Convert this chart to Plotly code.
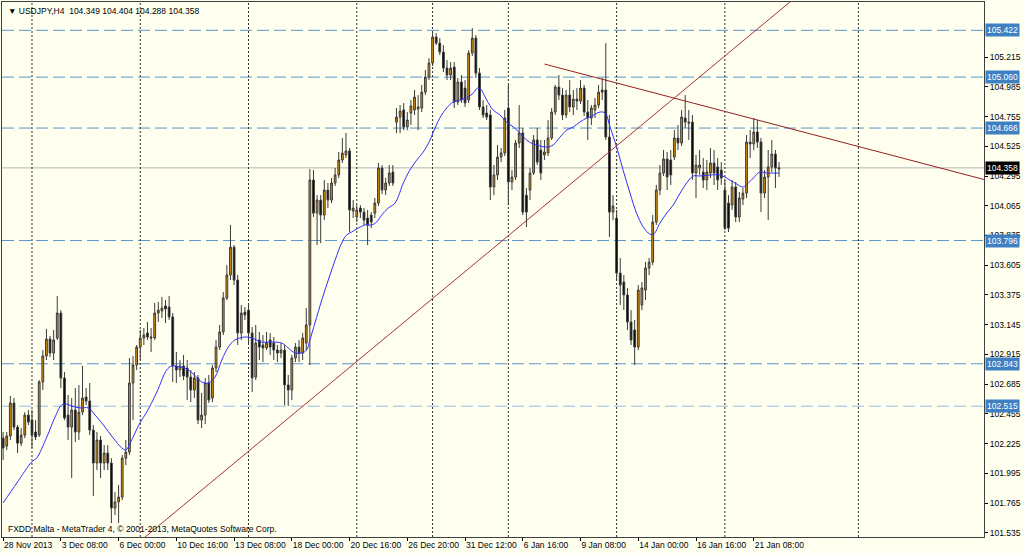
import plotly.graph_objects as go

# ---------------- data (USDJPY, H4) ----------------
opens = [102.268,102.206,102.284,102.539,102.353,102.229,102.291,102.446,102.407,102.315,
102.291,102.702,102.903,103.034,102.926,103.042,103.235,102.733,102.446,102.353,
102.485,102.315,102.469,102.586,102.554,102.330,102.075,102.253,102.075,102.152,
102.075,101.727,101.774,101.812,102.113,102.160,102.694,102.833,102.972,103.042,
103.081,103.050,103.042,103.235,103.251,103.290,103.282,103.205,102.826,102.795,
102.826,102.810,102.740,102.640,102.733,102.407,102.446,102.694,102.578,102.810,
102.972,103.089,103.351,103.529,103.745,103.490,103.081,103.243,103.258,103.081,
102.740,103.027,102.988,102.965,103.027,103.003,102.949,102.926,102.949,102.679,
102.640,102.887,102.972,102.926,103.003,103.143,104.264,104.008,104.109,103.993,
104.187,104.109,104.241,104.303,104.419,104.458,104.489,104.024,103.978,104.047,
104.016,103.970,103.993,104.008,104.086,104.357,104.187,104.241,104.326,104.712,
104.751,104.806,104.674,104.782,104.806,104.813,104.821,104.944,105.060,105.169,
105.370,105.323,105.254,105.130,105.076,105.138,104.867,105.022,104.975,104.883,
105.246,105.362,105.091,104.829,104.782,104.767,104.210,104.303,104.442,104.473,
104.821,104.249,104.287,104.550,104.628,104.147,104.187,104.318,104.574,104.496,
104.458,104.473,104.589,104.790,104.983,104.921,104.767,104.921,104.829,104.890,
104.875,104.975,104.790,104.744,104.806,104.844,104.960,104.960,104.597,104.016,
103.970,103.544,103.475,103.375,103.166,103.104,102.972,103.297,103.413,103.583,
103.629,103.939,104.187,104.318,104.427,104.419,104.442,104.589,104.550,104.744,
104.712,104.712,104.318,104.357,104.326,104.264,104.318,104.396,104.365,104.341,
104.187,104.086,104.070,104.210,103.978,104.117,104.163,104.558,104.543,104.635,
104.558,104.163,104.287,104.365,104.465,104.349]

highs = [102.315,102.315,102.594,102.578,102.369,102.345,102.469,102.485,102.485,102.407,
102.717,102.949,103.112,103.058,103.104,103.367,103.258,102.779,102.601,102.578,
102.655,102.679,102.826,102.655,102.694,102.369,102.315,102.284,102.214,102.214,
102.113,101.850,101.905,102.137,102.253,102.887,102.903,102.988,103.104,103.119,
103.166,103.119,103.313,103.321,103.360,103.336,103.367,103.235,102.934,102.872,
102.911,102.872,102.795,102.779,102.756,102.617,102.733,102.756,102.833,103.027,
103.143,103.397,103.606,103.916,103.761,103.529,103.297,103.282,103.297,103.127,
103.143,103.089,103.065,103.089,103.081,103.050,102.988,103.003,102.988,102.756,
102.911,103.003,103.027,103.081,103.274,104.349,104.341,104.147,104.147,104.264,
104.241,104.280,104.357,104.481,104.589,104.628,104.512,104.109,104.070,104.070,
104.047,104.032,104.016,104.125,104.396,104.379,104.280,104.379,104.379,104.821,
104.844,104.860,104.790,104.883,104.960,104.921,104.999,105.115,105.207,105.401,
105.401,105.362,105.308,105.192,105.176,105.176,105.053,105.076,105.037,105.269,
105.439,105.385,105.130,104.883,104.844,104.806,104.380,104.535,104.512,104.806,
104.999,104.341,104.574,104.844,104.666,104.202,104.357,104.612,104.666,104.574,
104.574,104.728,104.821,104.999,105.076,104.975,104.960,105.037,104.960,104.975,
105.037,104.999,104.883,104.844,104.898,104.999,105.053,105.323,104.767,104.147,
104.032,103.661,103.529,103.428,103.258,103.181,103.452,103.475,103.630,103.661,
103.993,104.226,104.380,104.496,104.481,104.496,104.651,104.689,104.806,104.921,
104.806,104.767,104.458,104.496,104.434,104.419,104.512,104.496,104.434,104.403,
104.264,104.147,104.264,104.249,104.171,104.202,104.612,104.651,104.744,104.728,
104.589,104.341,104.496,104.574,104.496,104.404]

lows = [102.098,102.175,102.253,102.330,102.152,102.206,102.268,102.369,102.191,102.253,
102.276,102.640,102.872,102.895,102.872,103.027,102.655,102.407,102.253,101.959,
102.237,102.253,102.446,102.523,102.291,101.820,102.021,101.959,102.021,102.021,
101.611,101.673,101.611,101.789,102.059,102.137,102.407,102.795,102.872,102.988,
103.027,102.934,103.027,103.166,103.197,103.158,103.181,102.702,102.694,102.740,
102.717,102.562,102.547,102.578,102.376,102.345,102.376,102.539,102.547,102.779,
102.949,103.065,103.336,103.490,103.452,102.988,103.027,103.181,102.988,102.624,
102.717,102.872,102.856,102.949,102.911,102.872,102.856,102.887,102.523,102.516,
102.562,102.856,102.856,102.872,102.949,102.833,103.978,103.761,103.776,103.954,
104.047,104.086,104.218,104.280,104.396,104.434,103.862,103.970,103.939,103.970,
103.916,103.761,103.892,103.970,104.063,104.155,104.147,104.218,104.218,104.627,
104.627,104.650,104.650,104.690,104.767,104.650,104.790,104.921,105.037,105.146,
105.308,105.231,105.099,105.037,105.037,104.821,104.844,104.860,104.829,104.860,
105.223,105.053,104.806,104.744,104.728,104.109,104.147,104.264,104.403,104.450,
104.070,104.187,104.264,104.512,103.993,103.900,104.109,104.303,104.380,104.264,
104.419,104.450,104.574,104.767,104.883,104.728,104.744,104.790,104.767,104.806,
104.852,104.759,104.574,104.689,104.744,104.821,104.883,104.574,103.823,103.954,
103.490,103.297,103.258,103.104,102.988,102.833,102.949,103.258,103.336,103.529,
103.606,103.916,104.147,104.295,104.187,104.226,104.419,104.496,104.527,104.666,
104.574,104.264,104.125,104.303,104.202,104.187,104.280,104.226,104.187,104.226,
103.877,103.862,104.032,103.939,103.939,104.070,104.125,104.434,104.496,104.512,
104.016,104.125,103.954,104.326,104.202,104.288]

closes = [102.191,102.284,102.539,102.353,102.229,102.291,102.446,102.392,102.291,102.276,
102.702,102.903,103.034,102.926,103.027,103.235,102.733,102.423,102.353,102.485,
102.315,102.469,102.578,102.554,102.330,102.075,102.253,102.075,102.152,102.075,
101.727,101.774,101.812,102.113,102.160,102.694,102.833,102.972,103.042,103.065,
103.050,103.042,103.235,103.258,103.274,103.266,103.205,102.826,102.795,102.826,
102.748,102.740,102.640,102.733,102.407,102.446,102.694,102.562,102.810,102.972,
103.089,103.351,103.529,103.745,103.490,103.081,103.235,103.220,103.081,102.733,
103.003,102.972,102.965,103.003,102.972,102.949,102.926,102.949,102.679,102.640,
102.887,102.972,102.926,103.042,103.143,104.264,104.008,104.109,103.993,104.187,
104.109,104.241,104.303,104.419,104.473,104.489,104.032,104.047,104.032,104.016,
103.954,103.916,103.939,104.086,104.357,104.187,104.241,104.318,104.241,104.751,
104.798,104.674,104.728,104.837,104.906,104.829,104.944,105.060,105.169,105.370,
105.323,105.254,105.130,105.076,105.130,104.867,105.022,104.883,104.860,105.246,
105.362,105.091,104.829,104.767,104.751,104.210,104.303,104.442,104.473,104.744,
104.249,104.287,104.550,104.628,104.016,104.016,104.318,104.574,104.403,104.318,
104.481,104.589,104.790,104.983,104.921,104.767,104.921,104.829,104.890,104.875,
104.975,104.790,104.744,104.821,104.844,104.944,104.944,104.597,104.016,104.063,
103.544,103.452,103.375,103.166,103.027,102.972,103.413,103.429,103.583,103.629,
103.939,104.187,104.318,104.427,104.287,104.303,104.589,104.550,104.751,104.712,
104.705,104.318,104.380,104.380,104.264,104.326,104.396,104.318,104.264,104.280,
103.892,103.892,104.210,103.978,104.125,104.163,104.558,104.543,104.635,104.558,
104.163,104.287,104.365,104.465,104.357,104.358]

bar_idx = list(range(len(closes)))

# moving average (bar index, price)
ma_x = [0,3.8,7.9,9.3,12.1,14.4,16.2,17.6,19.0,21.3,23.6,25.5,27.8,30.5,32.9,34.0,35.2,37.9,39.8,42.6,
45.3,46.7,49.0,50.9,53.6,55.0,56.8,58.7,60.6,62.4,64.2,67.0,68.9,71.6,74.4,77.2,79.0,80.9,82.7,84.1,
85.0,86.4,88.3,90.1,92.0,93.8,95.2,96.6,98.4,100.3,102.1,103.5,104.9,106.7,108.6,110.9,112.7,114.6,116.4,118.3,
119.2,121.0,122.9,124.7,126.6,128.4,130.3,131.4,132.3,134.0,135.8,137.7,139.5,141.4,143.2,145.1,146.9,148.8,150.6,152.4,
154.3,156.2,158.0,159.8,161.7,162.6,165.4,166.8,168.2,170.0,171.8,173.7,175.5,177.4,179.2,180.3,182.0,183.9,185.7,187.6,
189.4,191.2,193.1,195.9,198.6,200.0,201.4,203.3,205.1,206.5,207.9,209.7,211.6,213.5,215.0]
ma_y = [101.766,101.921,102.083,102.114,102.276,102.431,102.524,102.531,102.516,102.501,102.501,102.446,102.369,102.269,102.191,102.176,102.230,102.385,102.470,102.624,
102.794,102.825,102.818,102.802,102.740,102.702,102.694,102.740,102.872,102.972,103.026,103.050,103.042,103.011,103.011,103.003,102.965,102.926,102.926,102.949,
103.026,103.158,103.336,103.490,103.645,103.777,103.839,103.862,103.893,103.916,103.916,103.939,103.993,104.047,104.086,104.241,104.341,104.418,104.480,104.573,
104.635,104.743,104.821,104.867,104.883,104.898,104.937,104.975,104.968,104.883,104.805,104.767,104.712,104.674,104.627,104.573,104.542,104.527,104.519,104.535,
104.596,104.651,104.674,104.712,104.743,104.751,104.790,104.782,104.674,104.519,104.341,104.163,104.009,103.900,103.846,103.846,103.931,104.009,104.071,104.163,
104.241,104.295,104.295,104.303,104.303,104.287,104.264,104.233,104.210,104.241,104.280,104.326,104.318,104.318,104.318]

# time-axis labels
label_idx = [0,16,32,48,64,80,96,112,128,144,160,176,192,208]
label_text = ["28 Nov 2013","3 Dec 08:00","6 Dec 00:00","10 Dec 16:00","13 Dec 08:00",
              "18 Dec 00:00","20 Dec 16:00","26 Dec 20:00","31 Dec 12:00","6 Jan 16:00",
              "9 Jan 08:00","14 Jan 00:00","16 Jan 16:00","21 Jan 08:00"]
week_separators = [8,38,68,98,119,140,170,200,237]

price_ticks = [101.535,101.765,101.995,102.225,102.455,102.685,102.915,103.145,103.375,
               103.605,103.835,104.065,104.295,104.525,104.755,104.985,105.215]

levels = [105.422,105.060,104.666,103.796,102.843,102.515]
level_colors = ["#5b93c9","#5b93c9","#5b93c9","#5b93c9","#5b93c9","#93bbe0"]

trend_up = [(35,101.402),(222,105.733)]
trend_down = [(150,105.161),(280,104.208)]

symbol = "USDJPY,H4"
footer = "FXDD Malta - MetaTrader 4, \u00a9 2001-2013, MetaQuotes Software Corp."

# ---------------- styling ----------------
BG = "#fffff0"
FONT = "Liberation Sans"
FS = 8.5
X_RANGE = [-0.31, 271.8]
Y_RANGE = [101.503, 105.641]

fig = go.Figure()

fig.add_trace(go.Candlestick(
    x=bar_idx, open=opens, high=highs, low=lows, close=closes,
    increasing=dict(fillcolor="#e39400", line=dict(color="#3a3a3a", width=1)),
    decreasing=dict(fillcolor="#000000", line=dict(color="#3a3a3a", width=1)),
    whiskerwidth=0, hoverinfo="skip", showlegend=False))

fig.add_trace(go.Scatter(x=ma_x, y=ma_y, mode="lines",
                         line=dict(color="#2f2fff", width=1, shape="spline"),
                         hoverinfo="skip", showlegend=False))

for pts, col in ((trend_up, "#a83232"), (trend_down, "#962020")):
    fig.add_trace(go.Scatter(x=[p[0] for p in pts], y=[p[1] for p in pts], mode="lines",
                             line=dict(color=col, width=1), hoverinfo="skip", showlegend=False))

shapes = []
for lv, col in zip(levels, level_colors):
    shapes.append(dict(type="line", xref="paper", x0=0, x1=1, yref="y", y0=lv, y1=lv,
                       line=dict(color=col, width=1, dash="12px,5px"), layer="below"))
last_close = closes[-1]
shapes.append(dict(type="line", xref="paper", x0=0, x1=1, yref="y", y0=last_close, y1=last_close,
                   line=dict(color="#b4b4b4", width=1), layer="below"))
for s in week_separators:
    shapes.append(dict(type="line", xref="x", x0=s, x1=s, yref="paper", y0=0, y1=1,
                       line=dict(color="#303030", width=1, dash="2px,2px"), layer="below"))

annotations = []
for lv in levels:
    annotations.append(dict(xref="paper", x=1, xanchor="left", xshift=1, yref="y", y=lv,
                            text=f"{lv:.3f}", showarrow=False, bgcolor="#3f80c2",
                            font=dict(family=FONT, size=FS, color="white"), borderpad=1))
annotations.append(dict(xref="paper", x=1, xanchor="left", xshift=1, yref="y", y=last_close,
                        text=f"{last_close:.3f}", showarrow=False, bgcolor="#000000",
                        font=dict(family=FONT, size=FS, color="white"), borderpad=1))
head = f"\u25bc {symbol}\u00a0\u00a0{opens[-1]:.3f} {highs[-1]:.3f} {lows[-1]:.3f} {closes[-1]:.3f}"
annotations.append(dict(xref="paper", x=0, xanchor="left", xshift=4, yref="paper", y=1,
                        yanchor="top", yshift=-2, text=head, showarrow=False,
                        font=dict(family=FONT, size=FS, color="black")))
annotations.append(dict(xref="paper", x=0, xanchor="left", xshift=4, yref="paper", y=0,
                        yanchor="bottom", yshift=1, text=footer, showarrow=False,
                        font=dict(family=FONT, size=FS, color="black")))

fig.update_layout(
    width=1024, height=553,
    margin=dict(l=2, r=40, t=2, b=16),
    paper_bgcolor=BG, plot_bgcolor=BG,
    showlegend=False,
    shapes=shapes, annotations=annotations,
    xaxis=dict(range=X_RANGE, rangeslider=dict(visible=False), tickmode="array",
               tickvals=label_idx, ticktext=label_text, ticks="outside", ticklen=3,
               tickcolor="#000", showgrid=False, zeroline=False, showline=True,
               linecolor="#404040", mirror=True, ticklabelposition="outside right",
               tickangle=0, automargin=False,
               tickfont=dict(family=FONT, size=FS, color="black")),
    yaxis=dict(range=Y_RANGE, side="right", tickmode="array", tickvals=price_ticks,
               ticktext=[f"{t:.3f}" for t in price_ticks], ticks="outside", ticklen=3,
               tickcolor="#000", showgrid=False, zeroline=False, showline=True,
               linecolor="#404040", mirror=True, automargin=False,
               tickfont=dict(family=FONT, size=FS, color="black")),
)

fig.write_html("out.html", config={"displayModeBar": False},
               post_script="document.body.style.margin='0';")
